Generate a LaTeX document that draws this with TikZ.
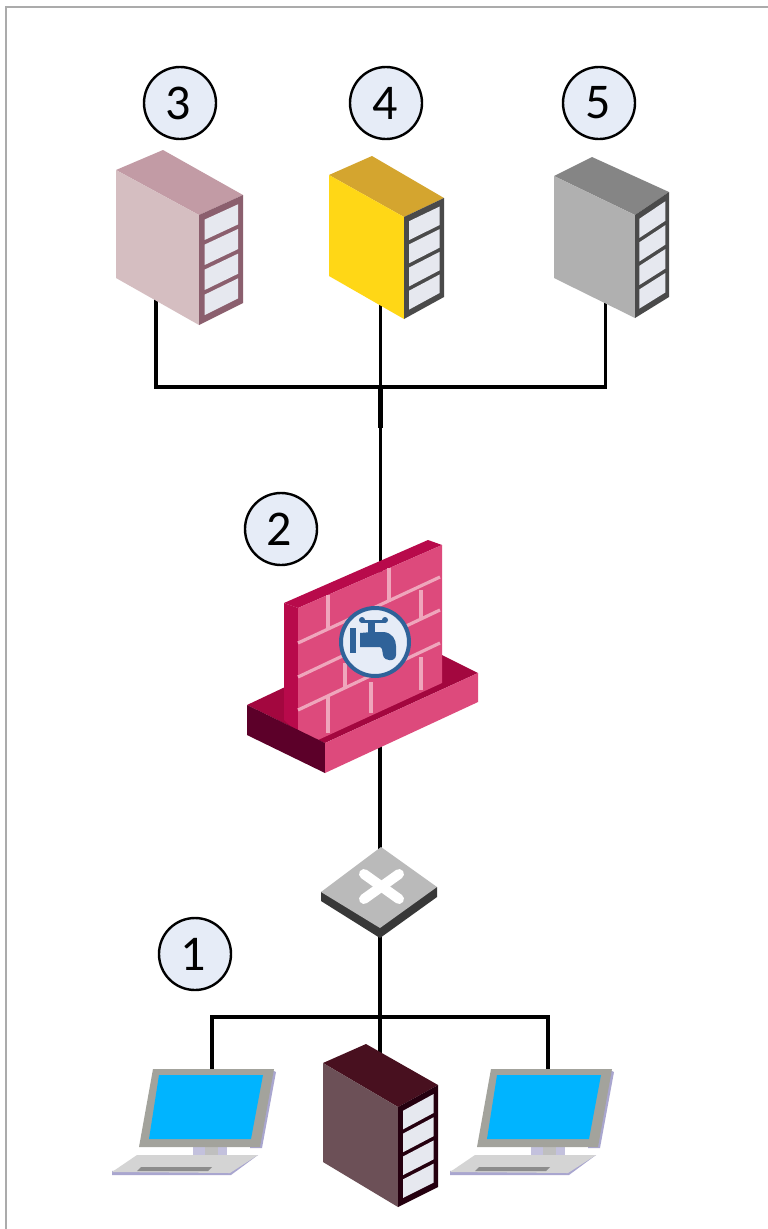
\documentclass[tikz,border=0pt]{standalone}
\usepackage{fontspec}
\setmainfont{Carlito}
\usetikzlibrary{calc}
\definecolor{badgefill}{HTML}{E6ECF7}
\definecolor{slotfill}{HTML}{E6E8EF}
\definecolor{brick}{HTML}{DD4A7C}
\definecolor{mortar}{HTML}{EFA6BC}
\definecolor{crimson}{HTML}{B80A4B}
\definecolor{tray}{HTML}{A3073F}
\definecolor{maroon}{HTML}{5C0029}
\definecolor{tapblue}{HTML}{2F6299}
\definecolor{lcdblue}{HTML}{00B4FF}
\definecolor{bezel}{HTML}{A3A39C}
\definecolor{lav}{HTML}{A9A6CF}
\definecolor{p3}{HTML}{8B5F6E}\definecolor{t3}{HTML}{C29BA5}\definecolor{s3}{HTML}{D5BEC1}
\definecolor{p4}{HTML}{4A4A4A}\definecolor{t4}{HTML}{D4A52F}\definecolor{s4}{HTML}{FFD716}
\definecolor{p5}{HTML}{4A4A4A}\definecolor{t5}{HTML}{858585}\definecolor{s5}{HTML}{B0B0B0}
\definecolor{p0}{HTML}{25000F}\definecolor{t0}{HTML}{48101F}\definecolor{s0}{HTML}{6C5057}
\tikzset{
  x=1pt,y=-1pt,
  badge/.style={circle,draw=black,line width=2.4pt,fill=badgefill,minimum size=72pt,inner sep=0pt,font=\fontsize{50}{50}\selectfont},
  wire/.style={draw=black,line width=3.4pt,line cap=butt,line join=miter},
  mortarline/.style={draw=mortar,line width=3.2pt},
}
\newcommand{\srvcolors}[1]{\def\panelcolor{#1}}
% server corners: tl, back, right, front, front-bottom, right-bottom, left-bottom; top colour, side colour
\newcommand{\srv}[9]{%
  \coordinate (TL) at (#1); \coordinate (BK) at (#2); \coordinate (RT) at (#3);
  \coordinate (FT) at (#4); \coordinate (FB) at (#5); \coordinate (RB) at (#6); \coordinate (LB) at (#7);
  \fill[#8] (TL)--(BK)--(RT)--(FT)--cycle;
  \fill[#9] (TL)--(FT)--(FB)--(LB)--cycle;
  \fill[\panelcolor] (FT)--(RT)--(RB)--(FB)--cycle;
  \coordinate (a1) at ($(FT)!.13!(RT)$); \coordinate (a2) at ($(FT)!.89!(RT)$);
  \coordinate (b1) at ($(FB)!.13!(RB)$); \coordinate (b2) at ($(FB)!.89!(RB)$);
  \foreach \a/\b in {0.065/0.251,0.293/0.479,0.521/0.707,0.749/0.935}{
    \fill[slotfill] ($(a1)!\a!(b1)$)--($(a2)!\a!(b2)$)--($(a2)!\b!(b2)$)--($(a1)!\b!(b1)$)--cycle;
  }}
\newcommand{\laptop}[1]{%
  \begin{scope}[shift={(#1,0)}]
    \fill[lav] (272,1070)--(276,1072)--(262,1148)--(250,1148)--cycle;
    \fill[lav!70!white] (193,1147) rectangle (227,1155);
    \fill[black!25] (205,1147) rectangle (218,1155);
    \fill[bezel] (153,1069)--(274,1069)--(260,1147)--(139,1147)--cycle;
    \fill[lcdblue] (159,1075)--(263,1075)--(251,1139)--(149,1139)--cycle;
    \fill[lav] (112,1171)--(258,1155)--(231,1175)--(112,1175)--cycle;
    \fill[black!17] (112,1172)--(137,1155)--(258,1155)--(230,1173)--cycle;
    \fill[black!45] (141,1167)--(212,1167)--(208,1171)--(137,1171)--cycle;
  \end{scope}}
\begin{document}
\begin{tikzpicture}
\useasboundingbox (0,0) rectangle (768,1229);
\fill[white] (0,0) rectangle (768,1229);
\draw[draw=black!33,line width=2pt] (6,1229)--(6,7)--(768,7);
% ports
\coordinate (srvA) at (156,295);
\coordinate (srvB) at (380.5,295);
\coordinate (srvC) at (605.5,295);
\coordinate (busTop) at (380.5,387);
\coordinate (busJoin) at (380.5,428);
\coordinate (fwTop) at (380.5,575);
\coordinate (fwBottom) at (380,740);
\coordinate (swTop) at (380,855);
\coordinate (swBottom) at (380,930);
\coordinate (busLow) at (380,1017);
\coordinate (srvD) at (380,1060);
\coordinate (lapA) at (212,1072);
\coordinate (lapB) at (548,1072);
% connectors
\draw[wire] (srvA)--(srvA|-busTop)--(srvC|-busTop)--(srvC);
\draw[wire] (srvB)--(busTop);
\draw[wire,line width=4.4pt] (busTop)--(busJoin);
\draw[wire] (busJoin)--(fwTop);
\draw[wire] (fwBottom)--(swTop);
\draw[wire] (swBottom)--(srvD);
\draw[wire] (lapA)--(lapA|-busLow)--(lapB|-busLow)--(lapB);
% servers
\srvcolors{p3}\srv{116,170}{163,150}{243,195}{199,215}{199,325}{243,303}{116,278}{t3}{s3}
\srvcolors{p4}\srv{329,175}{372,156}{444,198}{404,217}{404,319}{444,297}{329,276}{t4}{s4}
\srvcolors{p5}\srv{554,176}{592,157}{669,192}{635,215}{635,318}{669,297}{554,278}{t5}{s5}
\srvcolors{p0}\srv{323,1063}{366,1044}{438,1085}{398,1107}{398,1207}{438,1187}{323,1162}{t0}{s0}
% firewall
\fill[tray] (247,705)--(283,688)--(442,655)--(478,673)--(325,743)--(318,740)--cycle;
\fill[tray] (283,688)--(442,655)--(442,683)--(318,740)--(298,733)--cycle;
\fill[crimson] (284,603)--(298,608)--(298,733)--(284,720)--cycle;
\fill[crimson] (284,603)--(428,540)--(442,545)--(298,608)--cycle;
\fill[brick] (298,608)--(442,545)--(442,683)--(318,740)--(298,731)--cycle;
\draw[mortarline] (298,643)--(440,577);
\draw[mortarline] (298,677)--(440,610);
\draw[mortarline] (298,710)--(440,643);
\draw[mortarline] (328,595)--(328,630);
\draw[mortarline] (389,568)--(389,602);
\draw[mortarline] (421,590)--(421,620);
\draw[mortarline] (345,663)--(345,687);
\draw[mortarline] (421,657)--(421,690);
\draw[mortarline] (371,682)--(371,713);
\draw[mortarline] (328,697)--(328,733);
\fill[maroon] (247,705)--(325,743)--(325,773)--(247,735)--cycle;
\fill[brick] (325,743)--(478,673)--(478,702)--(325,773)--cycle;
% tap
\node[circle,draw=tapblue,line width=4pt,fill=badgefill,minimum size=68pt,inner sep=0pt] (tap) at (375,642) {};
\fill[tapblue] (350,628) rectangle (356,653);
\fill[tapblue] (360,633)--(372,632)--(384,632) .. controls (392,633) and (396,639) .. (396,646)--(396,655) .. controls (396,662) and (384,662) .. (383,655)--(382,649) .. controls (381,647) and (380,647) .. (378,647)--(360,647)--cycle;
\fill[tapblue] (368,620) rectangle (375,634);
\draw[tapblue,line width=3pt,line cap=round] (362,621)--(385,621);
\fill[tapblue] (362,620) circle (3);
\fill[tapblue] (385,620) circle (3);
% switch
\fill[black!78] (321,892)--(321,901)--(380,938)--(437,897)--(437,887)--cycle;
\fill[black!27] (381,847)--(437,887)--(380,928)--(321,892)--cycle;
\draw[white,line width=10pt,line cap=round] (364,899)--(399,874);
\draw[white,line width=10pt,line cap=round] (364,874)--(399,899);
% laptops
\laptop{0}
\laptop{338}
% badges
\node[badge] (b3) at (180,103) {\kern-3pt 3};
\node[badge] (b4) at (386,103) {\kern-2pt 4};
\node[badge] (b5) at (599,103) {\kern-2pt 5};
\node[badge] (b2) at (281,529) {\kern-3pt 2};
\node[badge] (b1) at (195,954) {\kern-3pt 1};
\end{tikzpicture}
\end{document}
